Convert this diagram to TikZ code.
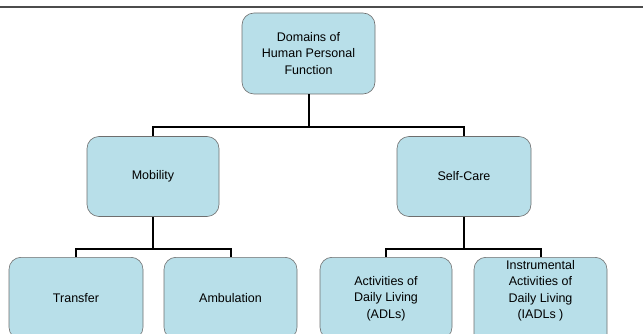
\documentclass[tikz,border=0pt]{standalone}
\usepackage{fontspec}
\setmainfont{Liberation Sans}
\definecolor{boxblue}{RGB}{184,223,233}
\definecolor{boxedge}{RGB}{110,110,110}
\begin{document}
\begin{tikzpicture}[x=1pt, y=-1pt,
    box/.style={rectangle, rounded corners=12pt, draw=boxedge, line width=0.6pt, fill=boxblue,
        align=center, inner sep=3pt, font=\fontsize{12.5}{16.5}\selectfont},
    link/.style={draw=black, line width=2pt}]
        \path[use as bounding box, clip] (0,0) rectangle (643,334);
        \coordinate (rl) at (0,7);
        \coordinate (rr) at (643,7);
        \draw[gray!60!black, line width=1.2pt] (rl) -- (rr);
        \node[box, minimum width=133pt, minimum height=81pt] (root) at (308.5,53.5) {Domains of\\Human Personal\\Function};
        \node[box, minimum width=132pt, minimum height=80pt] (mob) at (153,176.5) {Mobility};
        \node[box, minimum width=134pt, minimum height=80pt] (self) at (464,176.5) {Self-Care};
        \node[box, anchor=north, minimum width=134pt, minimum height=82pt] (trans) at (76,257) {Transfer};
        \node[box, anchor=north, minimum width=133pt, minimum height=82pt] (amb) at (230.5,257) {Ambulation};
        \node[box, anchor=north, minimum width=132pt, minimum height=82pt] (adl) at (386,257) {Activities of\\Daily Living\\(ADLs)};
        \node[box, anchor=north, minimum width=133pt, minimum height=82pt, text depth=66pt] (iadl) at (540.5,257) {Instrumental\\Activities of\\Daily Living\\(IADLs )};
        \coordinate (j0) at (308,127);
        \coordinate (j1) at (153,249);
        \coordinate (j2) at (464,249);
        \draw[link] (root.south) -- (root.south |- j0);
        \draw[link] (mob.north) |- (j0) -| (self.north);
        \draw[link] (mob.south) -- (mob.south |- j1);
        \draw[link] (trans.north) |- (j1) -| (amb.north);
        \draw[link] (self.south) -- (self.south |- j2);
        \draw[link] (adl.north) |- (j2) -| (iadl.north);
    \end{tikzpicture}
\end{document}
